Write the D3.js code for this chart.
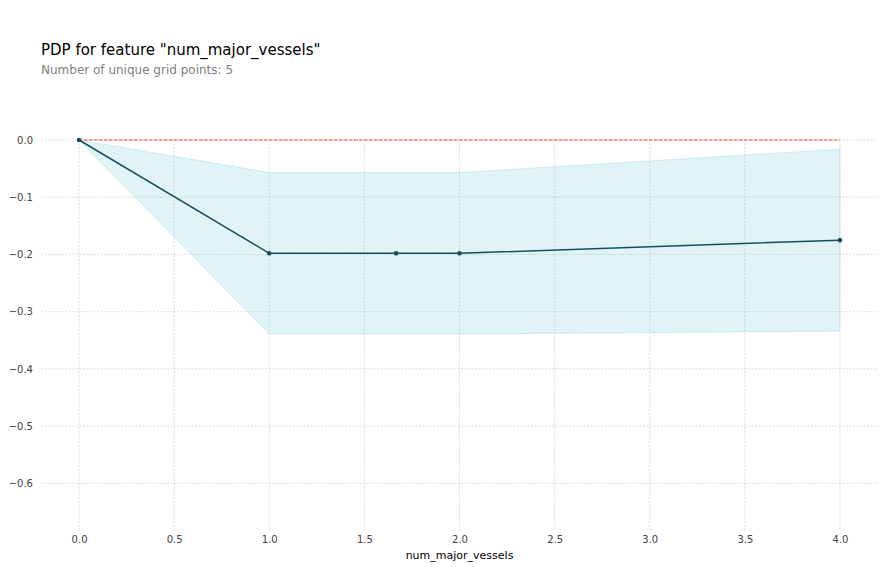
<!DOCTYPE html>
<html>
<head>
<meta charset="utf-8">
<script src="https://cdn.jsdelivr.net/npm/d3@7"></script>
<style>
  body { margin: 0; background: #fff; }
  svg { font-family: "DejaVu Sans", sans-serif; }
</style>
</head>
<body>
<svg id="chart" width="894" height="567"></svg>
<script>
const gridX = [0, 1, 1.6667, 2, 4];
const pdpValues = [0, -0.198, -0.198, -0.198, -0.175];
const upperValues = [0, -0.057, -0.057, -0.057, -0.016];
const lowerValues = [0, -0.339, -0.339, -0.339, -0.334];
const xTicks = [0, 0.5, 1, 1.5, 2, 2.5, 3, 3.5, 4];
const yTicks = [0, -0.1, -0.2, -0.3, -0.4, -0.5, -0.6];
const titleText = 'PDP for feature "num_major_vessels"';
const subtitleText = 'Number of unique grid points: 5';
const xLabel = 'num_major_vessels';

(function () {
const svg = d3.select('#chart');
const mLeft = 41, mRight = 878, mTop = 140, mBottom = 532;

const x = d3.scaleLinear().domain([-0.2, 4.2]).range([mLeft, mRight]);
const y = d3.scaleLinear().domain([-0.685, 0]).range([mBottom, mTop]);

const data = gridX.map((g, i) => ({x: g, y: pdpValues[i], lo: lowerValues[i], hi: upperValues[i]}));

// grid
const gGrid = svg.append('g');
gGrid.selectAll('line.h').data(yTicks).join('line').attr('class', 'h')
  .attr('x1', mLeft).attr('x2', mRight)
  .attr('y1', d => y(d)).attr('y2', d => y(d))
  .attr('stroke', '#c4c4c4').attr('stroke-width', 0.6).attr('stroke-dasharray', '2,1.5');
gGrid.selectAll('line.v').data(xTicks).join('line').attr('class', 'v')
  .attr('y1', mTop).attr('y2', mBottom)
  .attr('x1', d => x(d)).attr('x2', d => x(d))
  .attr('stroke', '#c4c4c4').attr('stroke-width', 0.6).attr('stroke-dasharray', '2,1.5');

// band
svg.append('path').datum(data)
  .attr('d', d3.area().x(d => x(d.x)).y0(d => y(d.lo)).y1(d => y(d.hi)))
  .attr('fill', '#66c2d7').attr('fill-opacity', 0.2)
  .attr('stroke', '#66c2d7').attr('stroke-opacity', 0.25).attr('stroke-width', 1);

// zero line
svg.append('line')
  .attr('x1', x(gridX[0])).attr('x2', x(gridX[gridX.length - 1]))
  .attr('y1', y(0)).attr('y2', y(0))
  .attr('stroke', '#e8452a').attr('stroke-width', 1.2).attr('stroke-dasharray', '3.5,1.5');

// pdp line
svg.append('path').datum(data)
  .attr('d', d3.line().x(d => x(d.x)).y(d => y(d.y)))
  .attr('fill', 'none').attr('stroke', '#1a4e5d').attr('stroke-width', 1.5);

svg.selectAll('circle.pt').data(data).join('circle').attr('class', 'pt')
  .attr('cx', d => x(d.x)).attr('cy', d => y(d.y)).attr('r', 2.3)
  .attr('fill', '#1a4e5d');

// axes
const xAxis = d3.axisBottom(x).tickValues(xTicks).tickFormat(d3.format('.1f')).tickSize(0).tickPadding(4);
const gx = svg.append('g').attr('transform', `translate(0,${mBottom})`).call(xAxis);
gx.select('.domain').remove();
gx.selectAll('text').attr('font-size', 10).attr('fill', '#424242').attr('font-family', '"DejaVu Sans", sans-serif');

const yAxis = d3.axisLeft(y).tickValues(yTicks).tickFormat(d => d3.format('.1f')(d).replace('-', '\u2212')).tickSize(0).tickPadding(8);
const gy = svg.append('g').attr('transform', `translate(${mLeft},0)`).call(yAxis);
gy.select('.domain').remove();
gy.selectAll('text').attr('font-size', 10).attr('fill', '#424242').attr('font-family', '"DejaVu Sans", sans-serif');

// labels
svg.append('text').attr('x', (mLeft + mRight) / 2).attr('y', 559)
  .attr('text-anchor', 'middle').attr('font-size', 11).attr('fill', '#000').text(xLabel);
svg.append('text').attr('x', 41).attr('y', 55)
  .attr('font-size', 15).attr('fill', '#000').text(titleText);
svg.append('text').attr('x', 41).attr('y', 74)
  .attr('font-size', 12).attr('fill', '#808080').text(subtitleText);
})();
</script>
</body>
</html>
